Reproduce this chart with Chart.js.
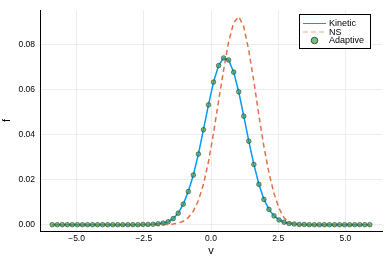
<!DOCTYPE html>
<html>
<head>
<meta charset="utf-8">
<script src="https://cdn.jsdelivr.net/npm/chart.js@4/dist/chart.umd.min.js"></script>
<style>
  html, body { margin: 0; padding: 0; background: #fff; }
  #wrap { width: 390px; height: 260px; }
</style>
</head>
<body>
<div id="wrap"><canvas id="chart" width="390" height="260"></canvas></div>
<script>
// velocity grid (cell centres)
const v = [
  -5.906, -5.719, -5.531, -5.344, -5.156, -4.969, -4.781, -4.594, -4.406, -4.219, -4.031, -3.844, -3.656, -3.469, -3.281, -3.094,
  -2.906, -2.719, -2.531, -2.344, -2.156, -1.969, -1.781, -1.594, -1.406, -1.219, -1.031, -0.844, -0.656, -0.469, -0.281, -0.094,
  0.094, 0.281, 0.469, 0.656, 0.844, 1.031, 1.219, 1.406, 1.594, 1.781, 1.969, 2.156, 2.344, 2.531, 2.719, 2.906,
  3.094, 3.281, 3.469, 3.656, 3.844, 4.031, 4.219, 4.406, 4.594, 4.781, 4.969, 5.156, 5.344, 5.531, 5.719, 5.906
];

const kinetic = [
  0, 0, 0, 0, 0, 0, 0, 0, 0, 0, 0, 0, 0, 0, 0, 0,
  0, 0, 0.0001, 0.0001, 0.0002, 0.0004, 0.0007, 0.0013, 0.0027, 0.0051, 0.0091, 0.0147, 0.0220, 0.0313, 0.0421, 0.0531,
  0.0632, 0.0705, 0.0739, 0.0730, 0.0676, 0.0589, 0.0481, 0.0370, 0.0267, 0.0179, 0.0112, 0.0068, 0.0039, 0.0021, 0.0011, 0.0005,
  0.0003, 0.0001, 0.0001, 0, 0, 0, 0, 0, 0, 0, 0, 0, 0, 0, 0, 0
];

const ns = [
  0, 0, 0, 0, 0, 0, 0, 0, 0, 0, 0, 0, 0, 0, 0, 0,
  0, 0, 0, 0, 0, 0.00002, 0.00004, 0.0001, 0.0003, 0.0007, 0.0015, 0.0031, 0.0060, 0.0107, 0.0179, 0.0279,
  0.0406, 0.0548, 0.0685, 0.0810, 0.0895, 0.0922, 0.0878, 0.0772, 0.0635, 0.0485, 0.0345, 0.0230, 0.0138, 0.0072, 0.0030, 0.0009,
  0.0002, 0, 0, 0, 0, 0, 0, 0, 0, 0, 0, 0, 0, 0, 0, 0
];

const adaptive = [
  0, 0, 0, 0, 0, 0, 0, 0, 0, 0, 0, 0, 0, 0, 0, 0,
  0, 0, 0.0001, 0.0001, 0.0002, 0.0004, 0.0007, 0.0013, 0.0027, 0.0051, 0.0091, 0.0147, 0.0220, 0.0313, 0.0421, 0.0531,
  0.0632, 0.0705, 0.0739, 0.0730, 0.0676, 0.0589, 0.0481, 0.0370, 0.0267, 0.0179, 0.0112, 0.0068, 0.0039, 0.0021, 0.0011, 0.0005,
  0.0003, 0.0001, 0.0001, 0, 0, 0, 0, 0, 0, 0, 0, 0, 0, 0, 0, 0
];

const xTicks = [-5, -2.5, 0, 2.5, 5];
const yTicks = [0, 0.02, 0.04, 0.06, 0.08];
const seriesNames = ['Kinetic', 'NS', 'Adaptive'];

const BLUE = '#009AFA';
const ORANGE = '#E36F47';
const FONT = "'Liberation Sans', Arial, sans-serif";
const GRID = 'rgba(0,0,0,0.07)';

function pts(ys) {
  return v.map((x, i) => ({ x: x, y: ys[i] }));
}

// legend drawn inside the plot, top right
const insideLegend = {
  id: 'insideLegend',
  afterDraw(chart) {
    const ctx = chart.ctx;
    const x0 = 299.5, y0 = 14.5, w = 71, h = 34;
    ctx.save();
    ctx.fillStyle = '#fff';
    ctx.fillRect(x0, y0, w, h);
    ctx.strokeStyle = '#000';
    ctx.lineWidth = 1;
    ctx.strokeRect(x0, y0, w, h);
    ctx.font = '9px ' + FONT;
    ctx.textBaseline = 'middle';
    const rows = [23.5, 32, 40.5];
    // Kinetic
    ctx.strokeStyle = BLUE;
    ctx.lineWidth = 1;
    ctx.beginPath(); ctx.moveTo(303, rows[0]); ctx.lineTo(326, rows[0]); ctx.stroke();
    // NS
    ctx.strokeStyle = ORANGE;
    ctx.globalAlpha = 0.6;
    ctx.setLineDash([5, 3]);
    ctx.beginPath(); ctx.moveTo(303, rows[1]); ctx.lineTo(326, rows[1]); ctx.stroke();
    ctx.setLineDash([]);
    ctx.globalAlpha = 1;
    // Adaptive
    ctx.fillStyle = 'rgba(62,164,78,0.7)';
    ctx.strokeStyle = 'rgba(0,0,0,0.6)';
    ctx.beginPath(); ctx.arc(314.5, rows[2], 3.3, 0, Math.PI * 2); ctx.fill(); ctx.stroke();
    ctx.fillStyle = '#000';
    seriesNames.forEach((name, i) => ctx.fillText(name, 329, rows[i] + 0.5));
    ctx.restore();
  }
};

new Chart(document.getElementById('chart'), {
  type: 'scatter',
  data: {
    datasets: [
      {
        label: seriesNames[0],
        data: pts(kinetic),
        showLine: true,
        borderColor: BLUE,
        borderWidth: 1.5,
        pointRadius: 0,
        order: 3
      },
      {
        label: seriesNames[1],
        data: pts(ns),
        showLine: true,
        borderColor: ORANGE,
        borderWidth: 1.5,
        borderDash: [5, 3.5],
        pointRadius: 0,
        order: 2
      },
      {
        label: seriesNames[2],
        data: pts(adaptive),
        showLine: false,
        pointRadius: 2.3,
        pointBackgroundColor: 'rgba(62,164,78,0.7)',
        pointBorderColor: 'rgba(30,50,40,0.7)',
        pointBorderWidth: 0.8,
        order: 1
      }
    ]
  },
  options: {
    responsive: false,
    animation: false,
    layout: { padding: { top: 8, right: 8, left: 0, bottom: 0 } },
    plugins: {
      legend: { display: false },
      tooltip: { enabled: false }
    },
    scales: {
      x: {
        type: 'linear',
        min: -6.36,
        max: 6.36,
        afterBuildTicks: (scale) => { scale.ticks = xTicks.map(t => ({ value: t })); },
        afterFit: (scale) => { scale.height = 29; },
        ticks: {
          padding: 3,
          color: '#000',
          font: { family: FONT, size: 8.5 },
          maxRotation: 0,
          callback: (val) => (val < 0 ? '\u2212' : '') + Math.abs(val).toFixed(1)
        },
        grid: { color: GRID, drawTicks: false },
        border: { display: true, color: '#000', width: 1 },
        title: {
          display: true,
          text: 'v',
          color: '#000',
          font: { family: FONT, size: 11 },
          padding: { top: 0, bottom: 2 }
        }
      },
      y: {
        min: -0.0028,
        max: 0.0951,
        afterBuildTicks: (scale) => { scale.ticks = yTicks.map(t => ({ value: t })); },
        afterFit: (scale) => { scale.width = 40; },
        ticks: {
          padding: 5,
          color: '#000',
          font: { family: FONT, size: 8.5 },
          callback: (val) => val.toFixed(2)
        },
        grid: { color: GRID, drawTicks: false },
        border: { display: true, color: '#000', width: 1 },
        title: {
          display: true,
          text: 'f',
          color: '#000',
          font: { family: FONT, size: 11 },
          padding: { top: 0, bottom: 0 }
        }
      }
    }
  },
  plugins: [insideLegend]
});
</script>
</body>
</html>
